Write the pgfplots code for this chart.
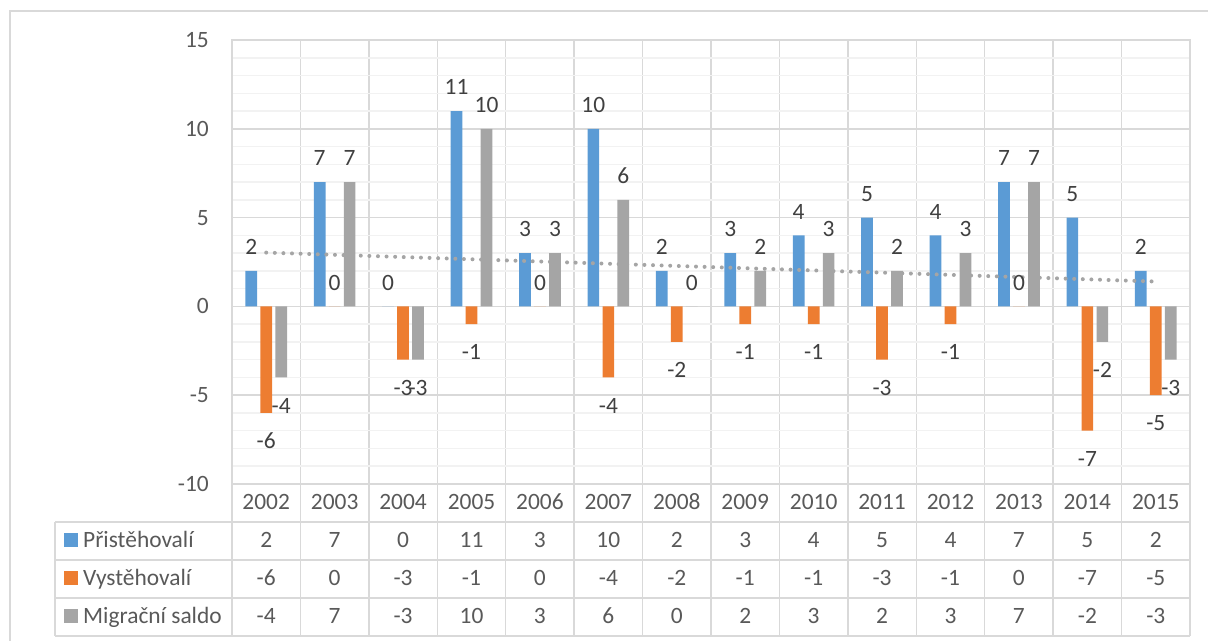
\documentclass[border=0pt]{standalone}
\usepackage{pgfplots}
\pgfplotsset{compat=1.18}
\usepackage{pgfplotstable}
\usepackage{fontspec}
\setmainfont{Carlito}
\definecolor{cBlue}{HTML}{5B9BD5}
\definecolor{cOrange}{HTML}{ED7D31}
\definecolor{cGray}{HTML}{A5A5A5}
\definecolor{cGrid}{HTML}{D9D9D9}
\definecolor{cMinor}{HTML}{F2F2F2}
\definecolor{cText}{HTML}{595959}
\definecolor{cLbl}{HTML}{404040}

\pgfplotstableread{
i year P V S
0 2002 2 -6 -4
1 2003 7 0 7
2 2004 0 -3 -3
3 2005 11 -1 10
4 2006 3 0 3
5 2007 10 -4 6
6 2008 2 -2 0
7 2009 3 -1 2
8 2010 4 -1 3
9 2011 5 -3 2
10 2012 4 -1 3
11 2013 7 0 7
12 2014 5 -7 -2
13 2015 2 -5 -3
}\data

\newcommand{\fnt}{\fontsize{23.5}{28}\selectfont}
\pgfplotsset{lbl/.style={
  nodes near coords={\pgfmathprintnumber[assume math mode=true]{\pgfplotspointmeta}},
  nodes near coords align={vertical},
  every node near coord/.append style={font=\fnt, text=cLbl, inner sep=2bp,
     text height=33.4bp, text depth=14.1bp, xshift=#1}}}

\begin{document}
\begin{tikzpicture}
\useasboundingbox (0,0) rectangle (1208bp,-641bp);
\draw[cGrid, line width=1.5bp] (10bp,-641bp) -- (10bp,-11bp) -- (1208bp,-11bp);
\begin{axis}[
  at={(232bp,-484bp)}, anchor=south west,
  scale only axis, width=958bp, height=444bp,
  xmin=-0.5, xmax=13.5, ymin=-10, ymax=15,
  axis line style={cGrid, line width=1.5bp},
  xtick={0,...,13},
  xticklabels={2002,2003,2004,2005,2006,2007,2008,2009,2010,2011,2012,2013,2014,2015},
  minor xtick={-0.5,0.5,...,13.5},
  xminorgrids,
  minor x grid style={cGrid, line width=1.5bp},
  ytick={-10,-5,0,5,10,15},
  yticklabels={-10,-5,0,5,10,15},
  minor ytick={-9,-8,-7,-6,-4,-3,-2,-1,1,2,3,4,6,7,8,9,11,12,13,14},
  ymajorgrids, yminorgrids,
  major grid style={cGrid, line width=1.5bp},
  minor y grid style={cMinor, line width=1.5bp},
  major tick length=0pt, minor tick length=0pt,
  tick label style={font=\fnt, text=cText, inner sep=0pt},
  yticklabel style={anchor=east, xshift=-23bp},
  xticklabel style={anchor=center, yshift=-18bp},
  clip=false,
]
\addplot[ybar, bar width=0.171, bar shift=-0.219, fill=cBlue, draw=none, lbl=-15bp] table[x=i,y=P]{\data};
\addplot[ybar, bar width=0.171, bar shift=0, fill=cOrange, draw=none, lbl=0bp] table[x=i,y=V]{\data};
\addplot[ybar, bar width=0.171, bar shift=0.219, fill=cGray, draw=none, lbl=15bp] table[x=i,y=S]{\data};
\addplot[cGray, line width=4bp, line cap=round, dash pattern=on 0bp off 8.6bp, mark=none] coordinates {(0,3.03) (13,1.40)};
\end{axis}
\begin{scope}[x=1bp,y=-1bp]
  \foreach \y in {522,560,598,636} \draw[cGrid, line width=1.5bp] (55,\y) -- (1190,\y);
  \draw[cGrid, line width=1.5bp] (55,522) -- (55,636);
  \foreach \k in {0,...,14} \draw[cGrid, line width=1.5bp] ({232+68.4286*\k},484) -- ({232+68.4286*\k},636);
  \fill[cBlue] (64,533) rectangle (78,547);
  \fill[cOrange] (64,571) rectangle (78,585);
  \fill[cGray] (64,609) rectangle (78,623);
  \node[anchor=base west, font=\fnt, text=cText, inner sep=0pt] at (83,547.4) {Přistěhovalí};
  \node[anchor=base west, font=\fnt, text=cText, inner sep=0pt] at (83,585.4) {Vystěhovalí};
  \node[anchor=base west, font=\fnt, text=cText, inner sep=0pt] at (83,623.4) {Migrační saldo};
  \foreach \r in {0,...,13} {
    \pgfplotstablegetelem{\r}{P}\of\data \let\vP\pgfplotsretval
    \pgfplotstablegetelem{\r}{V}\of\data \let\vV\pgfplotsretval
    \pgfplotstablegetelem{\r}{S}\of\data \let\vS\pgfplotsretval
    \node[anchor=base, font=\fnt, text=cText, inner sep=0pt] at ({232+68.4286*(\r+0.5)},547.4) {\vP};
    \node[anchor=base, font=\fnt, text=cText, inner sep=0pt] at ({232+68.4286*(\r+0.5)},585.4) {\vV};
    \node[anchor=base, font=\fnt, text=cText, inner sep=0pt] at ({232+68.4286*(\r+0.5)},623.4) {\vS};
  }
\end{scope}
\end{tikzpicture}
\end{document}
